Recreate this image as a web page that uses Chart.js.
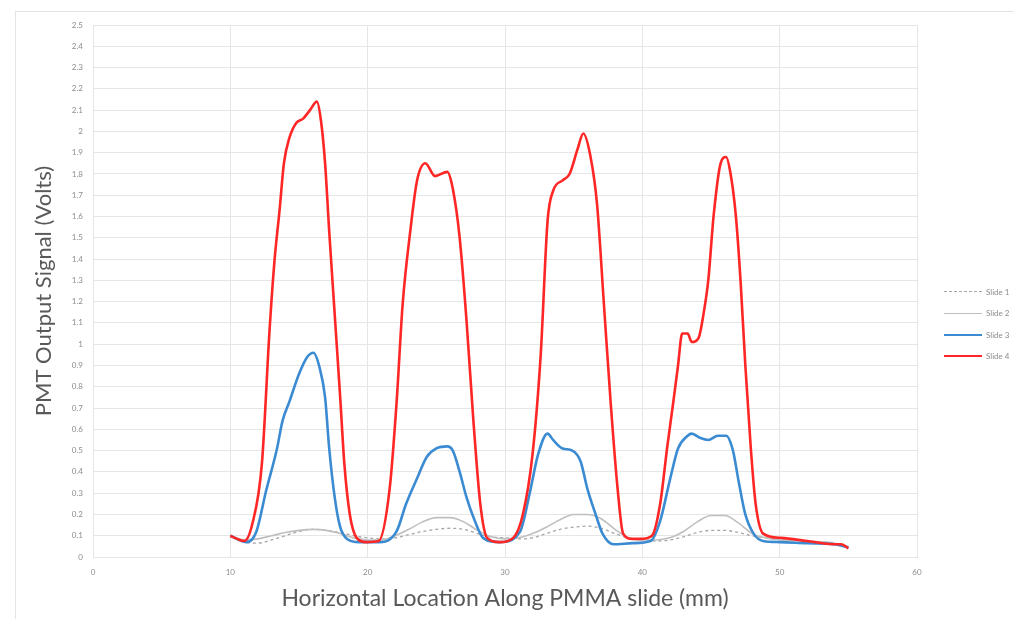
<!DOCTYPE html>
<html>
<head>
    <title>PMT Output Signal</title>
    <script src="https://cdn.jsdelivr.net/npm/chart.js@4.4.1/dist/chart.umd.min.js"></script>
    <style>
        body {
            margin: 0;
            background: #fff;
            overflow: hidden;
            font-family: Lato, "Liberation Sans", sans-serif;
        }

        #wrap {
            position: relative;
            width: 1014px;
            height: 619px;
        }

        #frame {
            position: absolute;
            left: 15px;
            top: 11px;
            width: 1010px;
            height: 620px;
            border: 1px solid #e3e3e3;
        }

        #legend {
            position: absolute;
            left: 944px;
            top: 281px;
            font-size: 8px;
            color: #8c8c8c;
        }

        .item {
            height: 21.5px;
            display: flex;
            align-items: center;
            white-space: nowrap;
        }

        .swatch {
            display: inline-block;
            width: 38px;
            margin-right: 4px;
        }
    </style>
</head>
<body>
    <div id="wrap">
        <div id="frame"></div>
        <canvas id="pmtChart" width="1014" height="619"></canvas>
        <div id="legend"></div>
    </div>

    <script>
        // series (x in mm, y in volts)
        const seriesNames = ['Slide 1', 'Slide 2', 'Slide 3', 'Slide 4'];

        const grayX = [10, 11, 12, 13, 14, 15, 16, 17, 18, 19, 20, 21, 22, 23, 24, 25, 26, 27, 28, 29, 30,
            31, 32, 33, 34, 35, 36, 37, 38, 39, 40, 41, 42, 43, 44, 45, 46, 47, 48, 49, 50, 52, 54, 55];
        const slide1Y = [0.1, 0.07, 0.065, 0.08, 0.1, 0.12, 0.13, 0.125, 0.115, 0.1, 0.09, 0.085, 0.09, 0.105, 0.12,
            0.13, 0.135, 0.13, 0.11, 0.095, 0.09, 0.085, 0.09, 0.11, 0.13, 0.14, 0.145, 0.135, 0.11, 0.09, 0.08,
            0.075, 0.08, 0.095, 0.115, 0.125, 0.125, 0.115, 0.1, 0.09, 0.085, 0.075, 0.065, 0.05];
        const slide2Y = [0.1, 0.08, 0.085, 0.1, 0.115, 0.125, 0.13, 0.125, 0.11, 0.09, 0.08, 0.08, 0.1, 0.13, 0.165,
            0.185, 0.185, 0.165, 0.125, 0.095, 0.085, 0.09, 0.11, 0.14, 0.175, 0.2, 0.2, 0.18, 0.13, 0.09, 0.08,
            0.08, 0.09, 0.12, 0.165, 0.195, 0.195, 0.16, 0.11, 0.09, 0.08, 0.075, 0.065, 0.05];

        const blueX = [10, 11.2, 11.9, 12.6, 13.4, 13.8, 14.3, 15, 15.6, 16.05, 16.5, 16.9, 17.2, 17.6, 18, 18.5,
            19.4, 20.9, 22.1, 22.8, 23.6, 24.3, 25, 25.8, 26.2, 26.7, 27.2, 27.8, 28.4, 29.6, 31.1, 31.8, 32.4,
            33.1, 33.5, 34.2, 34.9, 35.5, 36, 36.6, 37.1, 37.9, 39.3, 40.6, 41.3, 42, 42.6, 43.3, 43.6, 44.2,
            44.8, 45.5, 46.1, 46.6, 47, 47.5, 48.1, 48.8, 50, 52, 54, 55];
        const slide3Y = [0.1, 0.07, 0.12, 0.31, 0.51, 0.64, 0.73, 0.86, 0.94, 0.96, 0.89, 0.75, 0.51, 0.28, 0.14,
            0.085, 0.07, 0.07, 0.12, 0.25, 0.37, 0.47, 0.51, 0.52, 0.5, 0.4, 0.28, 0.17, 0.09, 0.07, 0.12, 0.3,
            0.48, 0.58, 0.55, 0.51, 0.5, 0.45, 0.32, 0.2, 0.11, 0.06, 0.065, 0.075, 0.17, 0.36, 0.51, 0.57, 0.58,
            0.56, 0.55, 0.57, 0.57, 0.5, 0.36, 0.2, 0.11, 0.075, 0.07, 0.065, 0.06, 0.045];

        const redX = [10, 10.5, 11, 11.6, 12.3, 12.85, 13.2, 13.6, 13.9, 14.3, 14.8, 15.3, 15.8, 16.3, 16.6, 16.9,
            17.2, 17.6, 18, 18.3, 18.7, 19.2, 19.9, 20.8, 21.6, 22.1, 22.55, 23.1, 23.6, 24.2, 24.9, 25.8, 26.2,
            26.7, 27.2, 27.7, 28.2, 28.7, 29.6, 30.6, 31.3, 32, 32.6, 33.1, 33.5, 34.2, 34.7, 35.3, 35.7, 36.2,
            36.7, 37.2, 37.7, 38.2, 38.6, 39.3, 39.85, 40.7, 41.3, 41.8, 42.3, 42.6, 42.9, 43.3, 43.6, 44.1,
            44.45, 44.8, 45.2, 45.7, 46.1, 46.4, 46.8, 47.15, 47.5, 47.9, 48.25, 48.8, 50.1, 52, 53.9, 54.5, 55];
        const slide4Y = [0.1, 0.085, 0.075, 0.155, 0.44, 1.06, 1.38, 1.64, 1.85, 1.97, 2.04, 2.06, 2.1, 2.14, 2.05,
            1.85, 1.53, 1.14, 0.75, 0.44, 0.2, 0.09, 0.07, 0.075, 0.32, 0.72, 1.19, 1.53, 1.77, 1.85, 1.79, 1.81,
            1.73, 1.5, 1.11, 0.64, 0.25, 0.09, 0.07, 0.09, 0.2, 0.48, 0.95, 1.58, 1.72, 1.77, 1.8, 1.92, 1.99,
            1.89, 1.66, 1.19, 0.72, 0.32, 0.11, 0.085, 0.085, 0.1, 0.25, 0.51, 0.75, 0.9, 1.05, 1.05, 1.01, 1.03,
            1.14, 1.3, 1.61, 1.85, 1.88, 1.81, 1.61, 1.3, 0.9, 0.51, 0.25, 0.11, 0.09, 0.075, 0.06, 0.06, 0.04];

        const xTitle = 'Horizontal Location Along PMMA slide (mm)';
        const yTitle = 'PMT Output Signal (Volts)';

        function toPoints(xs, ys) {
            return xs.map((x, i) => ({ x: x, y: ys[i] }));
        }

        const styles = [
            { color: '#a6a6a6', width: 1.3, dash: [3, 3] },
            { color: '#bfbfbf', width: 1.6, dash: [] },
            { color: '#3b8bd2', width: 2.6, dash: [] },
            { color: '#ff2626', width: 2.6, dash: [] }
        ];
        const xs = [grayX, grayX, blueX, redX];
        const ys = [slide1Y, slide2Y, slide3Y, slide4Y];

        const datasets = seriesNames.map((name, i) => ({
            label: name,
            data: toPoints(xs[i], ys[i]),
            borderColor: styles[i].color,
            borderWidth: styles[i].width,
            borderDash: styles[i].dash,
            pointRadius: 0,
            fill: false,
            cubicInterpolationMode: 'monotone',
            order: 3 - i
        }));

        const gridColor = '#e6e6e6';
        const tickColor = '#8c8c8c';

        new Chart(document.getElementById('pmtChart'), {
            type: 'line',
            data: { datasets: datasets },
            options: {
                responsive: false,
                animation: false,
                layout: { padding: { left: 20, top: 25, right: 97, bottom: 6 } },
                plugins: {
                    legend: { display: false },
                    tooltip: { enabled: false }
                },
                scales: {
                    x: {
                        type: 'linear',
                        min: 0,
                        max: 60,
                        ticks: {
                            stepSize: 10,
                            padding: 11,
                            color: tickColor,
                            font: { family: 'Lato', size: 8 }
                        },
                        grid: { color: gridColor, drawTicks: false },
                        border: { color: gridColor },
                        title: {
                            display: true,
                            text: xTitle,
                            color: '#595959',
                            font: { family: 'Lato', size: 23 },
                            padding: { top: 0, bottom: 1 }
                        },
                        afterFit: (scale) => { scale.height = 56; }
                    },
                    y: {
                        min: 0,
                        max: 2.5,
                        ticks: {
                            stepSize: 0.1,
                            maxTicksLimit: 30,
                            autoSkip: false,
                            padding: 10,
                            color: tickColor,
                            font: { family: 'Lato', size: 8 },
                            callback: (v) => String(Number(v.toFixed(1)))
                        },
                        grid: { color: gridColor, drawTicks: false },
                        border: { color: gridColor },
                        title: {
                            display: true,
                            text: yTitle,
                            color: '#595959',
                            font: { family: 'Lato', size: 22 },
                            padding: { top: 11, bottom: 0 }
                        },
                        afterFit: (scale) => { scale.width = 73; }
                    }
                }
            }
        });

        // legend beside the plot, same order as the series
        const legend = document.getElementById('legend');
        seriesNames.forEach((name, i) => {
            const row = document.createElement('div');
            row.className = 'item';
            const sw = document.createElement('span');
            sw.className = 'swatch';
            sw.style.borderTop = styles[i].width + 'px ' + (styles[i].dash.length ? 'dashed ' : 'solid ') + styles[i].color;
            row.appendChild(sw);
            row.appendChild(document.createTextNode(name));
            legend.appendChild(row);
        });
    </script>
</body>
</html>
